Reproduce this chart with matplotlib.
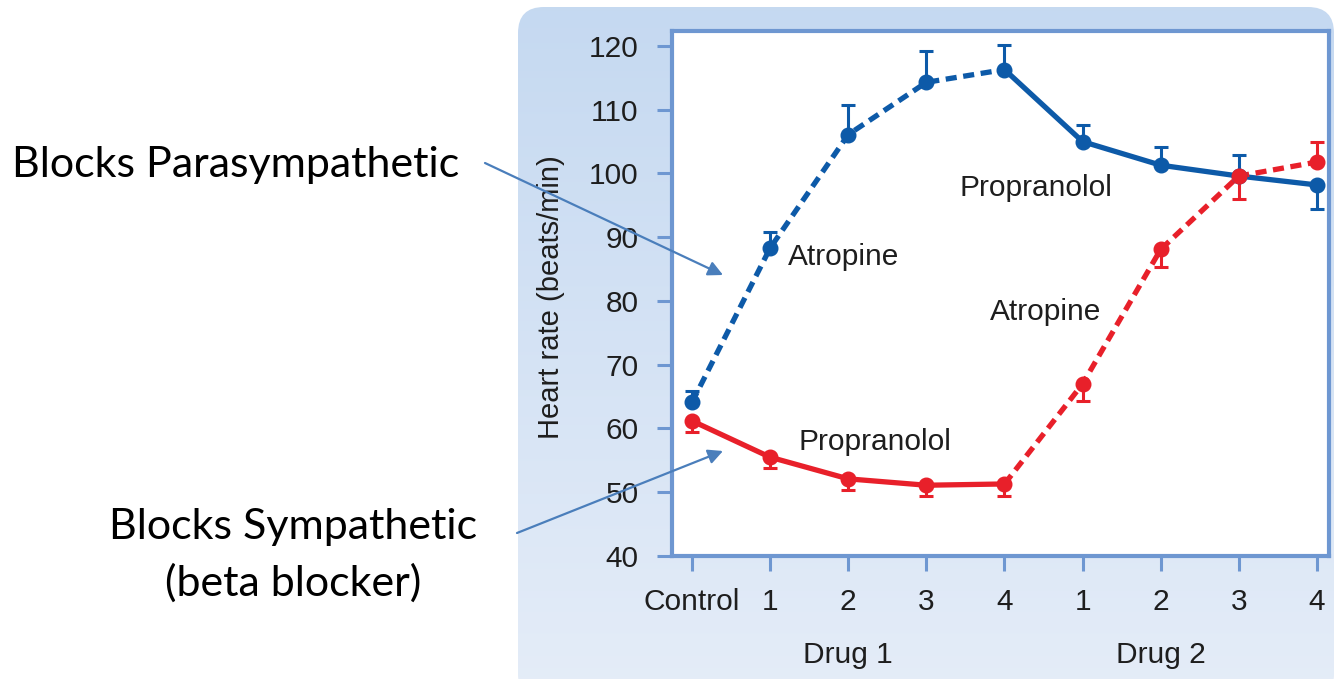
import numpy as np
import matplotlib
matplotlib.use('Agg')
import matplotlib.pyplot as plt
from matplotlib.patches import FancyBboxPatch

# ---------------- data ----------------
x_labels = ['Control', '1', '2', '3', '4', '1', '2', '3', '4']
group_labels = ['Drug 1', 'Drug 2']
blue_mean = [64.1, 88.3, 106.1, 114.3, 116.3, 105.0, 101.3, 99.6, 98.2]
blue_err_low = [0, 0, 0, 0, 0, 0, 0, 0, 3.7]
blue_err_high = [1.8, 2.6, 4.6, 4.9, 3.8, 2.6, 2.8, 3.3, 0]
red_mean = [61.2, 55.5, 52.1, 51.1, 51.3, 67.0, 88.1, 99.6, 101.8]
red_err_low = [1.8, 1.7, 1.8, 1.7, 1.9, 2.7, 2.8, 3.6, 0]
red_err_high = [0, 0, 0, 0, 0, 0, 0, 0, 3.2]
y_ticks = [40, 50, 60, 70, 80, 90, 100, 110, 120]

BLUE = '#0d5aa8'
RED = '#e8202a'
FRAME = '#6e97d1'
ARROW = '#4a7ebb'
TXT = '#1e1e1e'
FS = 21.5

W, H = 1337, 679
fig = plt.figure(figsize=(W / 100, H / 100), dpi=100)
fig.patch.set_facecolor('white')

# ---------------- background panel ----------------
bg = fig.add_axes([0, 0, 1, 1], zorder=0)
bg.set_xlim(0, W)
bg.set_ylim(H, 0)
bg.axis('off')
top_c = np.array([0.773, 0.851, 0.945])
bot_c = np.array([0.898, 0.929, 0.973])
t = np.linspace(0, 1, 256)[:, None]
grad = (top_c[None, :] * (1 - t) + bot_c[None, :] * t)[:, None, :]
grad = np.repeat(grad, 2, axis=1)
px0, py0, px1, py1 = 518, 7, 1334, 700
r = 26
im = bg.imshow(grad, extent=[px0, px1, py1, py0], aspect='auto', interpolation='bilinear')
panel = FancyBboxPatch((px0 + r, py0 + r), (px1 - px0) - 2 * r, (py1 - py0) - 2 * r,
                       boxstyle=f"round,pad={r}", transform=bg.transData,
                       facecolor='none', edgecolor='none')
bg.add_patch(panel)
im.set_clip_path(panel)
bg.set_xlim(0, W)
bg.set_ylim(H, 0)

# ---------------- main axes ----------------
L, R, T, B = 672, 1329, 31, 556
ax = fig.add_axes([L / W, 1 - B / H, (R - L) / W, (B - T) / H], zorder=2)
ax.set_facecolor('white')
x = np.arange(len(x_labels))

ax.errorbar(x, blue_mean, yerr=[blue_err_low, blue_err_high], fmt='none',
            ecolor=BLUE, elinewidth=2.2, capsize=5, capthick=2.2, zorder=3)
ax.errorbar(x, red_mean, yerr=[red_err_low, red_err_high], fmt='none',
            ecolor=RED, elinewidth=2.2, capsize=5, capthick=2.2, zorder=3)

lw = 3.8
dash = (2.1, 1.25)
ax.plot(x[:5], blue_mean[:5], color=BLUE, lw=lw, dashes=dash, zorder=4)
ax.plot(x[4:], blue_mean[4:], color=BLUE, lw=lw, zorder=4)
ax.plot(x[:5], red_mean[:5], color=RED, lw=lw, zorder=4)
ax.plot(x[4:], red_mean[4:], color=RED, lw=lw, dashes=dash, zorder=4)
ax.plot(x, blue_mean, 'o', color=BLUE, ms=10.5, zorder=5)
ax.plot(x, red_mean, 'o', color=RED, ms=10.5, zorder=5)

ax.set_xlim(-0.256, 8.154)
ax.set_ylim(40, 122.35)
ax.set_xticks(x)
ax.set_xticklabels(x_labels)
ax.set_yticks(y_ticks)
for s in ax.spines.values():
    s.set_color(FRAME)
    s.set_linewidth(3)
ax.tick_params(direction='out', length=11, width=2.2, color=FRAME,
               labelsize=FS, labelcolor=TXT)
ax.tick_params(axis='y', pad=13)
ax.tick_params(axis='x', pad=12)
for lab in ax.get_xticklabels() + ax.get_yticklabels():
    lab.set_family('Liberation Sans')

ax.set_ylabel('Heart rate (beats/min)', fontsize=21, color=TXT, family='Liberation Sans')
ax.yaxis.label.set_va('center')
ax.yaxis.set_label_coords(-0.184, 0.493)

tf = ax.get_xaxis_transform()
ax.text(2, -0.189, group_labels[0], transform=tf, ha='center', va='center',
        fontsize=FS, color=TXT, family='Liberation Sans')
ax.text(6, -0.189, group_labels[1], transform=tf, ha='center', va='center',
        fontsize=FS, color=TXT, family='Liberation Sans')

kw = dict(fontsize=FS, color=TXT, family='Liberation Sans', ha='left', va='center', zorder=6)
ax.text(1.23, 86.9, 'Atropine', **kw)
ax.text(3.43, 97.7, 'Propranolol', **kw)
ax.text(3.82, 78.3, 'Atropine', **kw)
ax.text(1.36, 57.9, 'Propranolol', **kw)

# ---------------- overlay: left notes and arrows ----------------
ov = fig.add_axes([0, 0, 1, 1], zorder=10)
ov.set_xlim(0, W)
ov.set_ylim(H, 0)
ov.axis('off')
ov.patch.set_alpha(0)

nk = dict(fontsize=31, color='black', family='Lato', va='center')
ov.text(12, 165, 'Blocks Parasympathetic', ha='left', **nk)
ov.text(293, 527, 'Blocks Sympathetic', ha='center', **nk)
ov.text(293, 583, '(beta blocker)', ha='center', **nk)

ap = dict(arrowstyle='-|>', color=ARROW, lw=1.6, mutation_scale=22, shrinkA=0, shrinkB=0)
ov.annotate('', xy=(723, 275), xytext=(485, 163), arrowprops=ap)
ov.annotate('', xy=(723, 451), xytext=(517, 533), arrowprops=ap)

fig.savefig('out.png', dpi=100)
